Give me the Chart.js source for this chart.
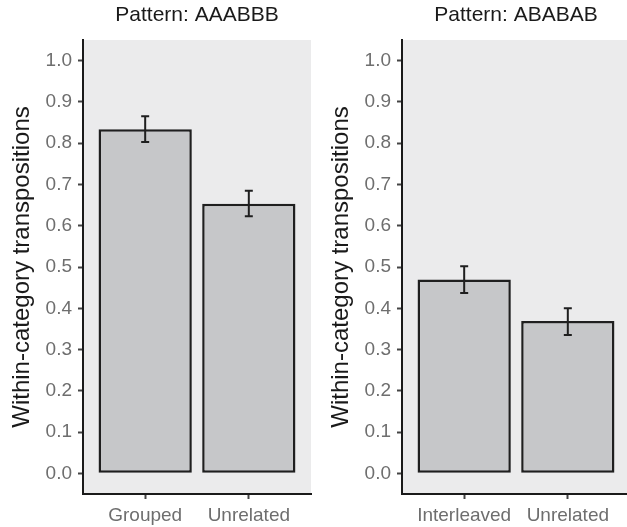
<!DOCTYPE html>
<html>
<head>
<meta charset="utf-8">
<script src="https://cdn.jsdelivr.net/npm/chart.js@4.4.1/dist/chart.umd.min.js"></script>
<style>
  html, body { margin: 0; padding: 0; background: #ffffff; overflow: hidden; }
  body { width: 627px; height: 527px; position: relative; }
  canvas { position: absolute; top: 0; }
  #left { left: 0; }
  #right { left: 319px; }
</style>
</head>
<body>
<canvas id="left" width="314" height="527"></canvas>
<canvas id="right" width="314" height="527"></canvas>
<script>
// values
var panelTitles = ['Pattern: AAABBB', 'Pattern: ABABAB'];
var yAxisTitle = 'Within-category transpositions';
var yTicks = [0.0, 0.1, 0.2, 0.3, 0.4, 0.5, 0.6, 0.7, 0.8, 0.9, 1.0];
var xPositions = [1, 2];

var groupedLabels = ['Grouped', 'Unrelated'];
var groupedMeans = [0.834, 0.653];
var groupedLower = [0.803, 0.623];
var groupedUpper = [0.865, 0.685];

var interleavedLabels = ['Interleaved', 'Unrelated'];
var interleavedMeans = [0.470, 0.369];
var interleavedLower = [0.437, 0.335];
var interleavedUpper = [0.502, 0.400];

var FONT = "'Liberation Sans', Arial, Helvetica, sans-serif";

// grey panel behind the bars
var panelBackground = {
    id: 'panelBackground',
    beforeDraw: function (chart) {
        var a = chart.chartArea;
        var ctx = chart.ctx;
        ctx.save();
        ctx.fillStyle = '#ebebec';
        ctx.fillRect(a.left, a.top, a.right - a.left, a.bottom - a.top);
        ctx.restore();
    }
};

// error bars from the lower/upper arrays
var errorBars = {
    id: 'errorBars',
    afterDatasetsDraw: function (chart, args, opts) {
        var xs = chart.scales.x, ys = chart.scales.y;
        var ctx = chart.ctx;
        ctx.save();
        ctx.strokeStyle = '#1f1f1f';
        ctx.lineWidth = 2;
        for (var i = 0; i < opts.lower.length; i++) {
            var x = xs.getPixelForValue(xPositions[i]);
            var yLo = ys.getPixelForValue(opts.lower[i]);
            var yHi = ys.getPixelForValue(opts.upper[i]);
            ctx.beginPath();
            ctx.moveTo(x, yLo); ctx.lineTo(x, yHi);
            ctx.moveTo(x - 4, yLo); ctx.lineTo(x + 4, yLo);
            ctx.moveTo(x - 4, yHi); ctx.lineTo(x + 4, yHi);
            ctx.stroke();
        }
        ctx.restore();
    }
};

function drawPanel(canvasId, title, labels, means, lower, upper) {
    var ctx = document.getElementById(canvasId).getContext('2d');
    var points = xPositions.map(function (x, i) { return { x: x, y: means[i] }; });

    return new Chart(ctx, {
        type: 'bar',
        data: {
            datasets: [{
                data: points,
                backgroundColor: '#c6c7c9',
                borderColor: '#1f1f1f',
                borderWidth: 2.5,
                borderSkipped: false,
                categoryPercentage: 1.0,
                barPercentage: 0.9
            }]
        },
        options: {
            responsive: false,
            devicePixelRatio: 1,
            animation: false,
            layout: { padding: { left: 0, right: 3, top: 0, bottom: 0 } },
            plugins: {
                legend: { display: false },
                tooltip: { enabled: false },
                title: {
                    display: true,
                    text: title,
                    fullSize: false,
                    color: '#1a1a1a',
                    font: { family: FONT, size: 21, weight: 'normal' },
                    padding: { top: 3, bottom: 11.8 }
                },
                errorBars: { lower: lower, upper: upper }
            },
            scales: {
                x: {
                    type: 'linear',
                    offset: false,
                    min: 0.4,
                    max: 2.6,
                    afterBuildTicks: function (scale) {
                        scale.ticks = xPositions.map(function (v) { return { value: v }; });
                    },
                    afterFit: function (scale) { scale.height = 33; },
                    ticks: {
                        color: '#6e6e6e',
                        padding: 5,
                        maxRotation: 0,
                        autoSkip: false,
                        font: { family: FONT, size: 19 },
                        callback: function (v) { return labels[xPositions.indexOf(v)]; }
                    },
                    grid: { offset: false, drawOnChartArea: false, drawTicks: true, tickLength: 5, tickColor: '#444444', tickWidth: 2 },
                    border: { display: true, color: '#1a1a1a', width: 2 }
                },
                y: {
                    min: -0.05,
                    max: 1.05,
                    afterBuildTicks: function (scale) {
                        scale.ticks = yTicks.map(function (v) { return { value: v }; });
                    },
                    afterFit: function (scale) { scale.width = 83; },
                    ticks: {
                        color: '#6e6e6e',
                        padding: 6,
                        font: { family: FONT, size: 19 },
                        callback: function (v) { return v.toFixed(1); }
                    },
                    grid: { drawOnChartArea: false, drawTicks: true, tickLength: 5, tickColor: '#444444', tickWidth: 2 },
                    border: { display: true, color: '#1a1a1a', width: 2 },
                    title: {
                        display: true,
                        text: yAxisTitle,
                        color: '#1a1a1a',
                        font: { family: FONT, size: 24 },
                        padding: { top: 8, bottom: 0 }
                    }
                }
            }
        },
        plugins: [panelBackground, errorBars]
    });
}

drawPanel('left', panelTitles[0], groupedLabels, groupedMeans, groupedLower, groupedUpper);
drawPanel('right', panelTitles[1], interleavedLabels, interleavedMeans, interleavedLower, interleavedUpper);
</script>
</body>
</html>
